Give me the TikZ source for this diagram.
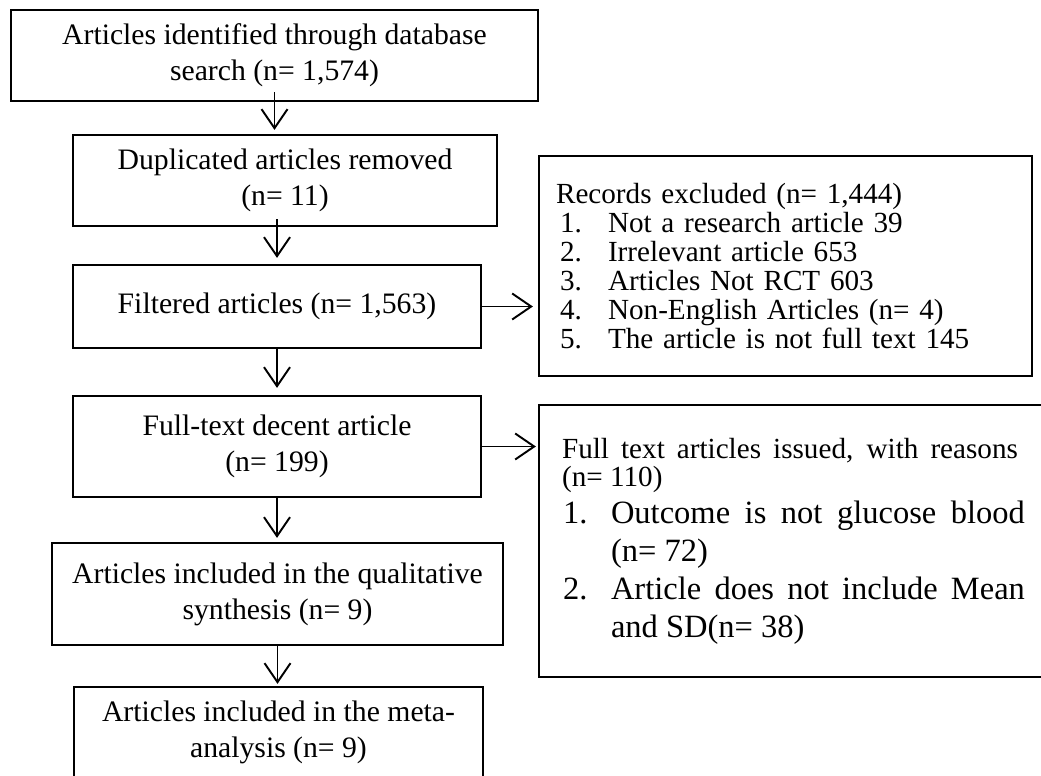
\documentclass[tikz,border=0pt]{standalone}
\usepackage{fontspec}
\setmainfont{Liberation Serif}
\usetikzlibrary{arrows.meta, positioning}

\begin{document}
\begin{tikzpicture}[x=0.02cm, y=-0.02cm,
      font=\fontsize{16.9}{20.5}\selectfont,
      box/.style={draw, line width=1.3pt, align=center, inner sep=0pt},
      side/.style={draw, line width=1.3pt, inner ysep=0pt},
      arr/.style={-{Straight Barb[length=0.38cm, width=0.52cm]}, line width=1.1pt}]

      \useasboundingbox (0,0) rectangle (1041,776);
      \clip (0,0) rectangle (1041,776);

      \node[box, minimum width=10.54cm, minimum height=1.82cm] (b1) at (274.5,55.5) {Articles identified through database\\search (n= 1,574)};
      \node[box, minimum width=8.48cm, minimum height=1.82cm] (b2) at (285,180.5) {Duplicated articles removed\\(n= 11)};
      \node[box, minimum width=8.16cm, minimum height=1.66cm] (b3) at (277,306.5) {Filtered articles (n= 1,563)};
      \node[box, minimum width=8.16cm, minimum height=2.02cm] (b4) at (277,446.5) {Full-text decent article\\(n= 199)};
      \node[box, minimum width=9.02cm, minimum height=2.04cm] (b5) at (277.5,594) {Articles included in the qualitative\\synthesis (n= 9)};
      \node[box, minimum width=8.18cm, minimum height=1.82cm] (b6) at (278.5,732.5) {Articles included in the meta-\\analysis (n= 9)};

      \node[side, align=left, text width=9.18cm, inner xsep=0.34cm, minimum height=4.4cm, font=\fontsize{16.6}{16.5}\selectfont] (exA) at (785.5,266) {Records excluded (n= 1,444)\\
        \hspace*{0.08cm}\makebox[0.96cm][l]{1.}Not a research article 39\\
        \hspace*{0.08cm}\makebox[0.96cm][l]{2.}Irrelevant article 653\\
        \hspace*{0.08cm}\makebox[0.96cm][l]{3.}Articles Not RCT 603\\
        \hspace*{0.08cm}\makebox[0.96cm][l]{4.}Non-English Articles (n= 4)\\
        \hspace*{0.08cm}\makebox[0.96cm][l]{5.}The article is not full text 145};
      \node[side, align=justify, text width=9.26cm, inner xsep=0.46cm, minimum height=5.44cm] (exB) at (793.5,541) {%
        {\fontsize{16.6}{16}\selectfont\noindent Full text articles issued, with reasons (n= 110)\rightskip=0.14cm\par}
        {\fontsize{18.5}{21.5}\selectfont
        \hangindent=0.98cm\hangafter=1\noindent\makebox[0.98cm][l]{\hspace*{0.02cm}1.}Outcome is not glucose blood (n= 72)\par
        \hangindent=0.98cm\hangafter=1\noindent\makebox[0.98cm][l]{\hspace*{0.02cm}2.}Article does not include Mean and SD(n= 38)\par}};

      \draw[arr, shorten >=0.08cm] ([yshift=0.2cm]b1.south) -- (b1.south |- b2.north);
      \draw[arr, shorten >=0.12cm] ([yshift=0.16cm]b3.north |- b2.south) -- (b3.north);
      \draw[arr, shorten >=0.14cm] (b3.south) -- (b4.north);
      \draw[arr, shorten >=0.08cm] (b4.south) -- (b4.south |- b5.north);
      \draw[arr, shorten >=0.04cm] (b5.south) -- (b5.south |- b6.north);
      \draw[arr, shorten >=0.1cm] (b3.east) -- (b3.east -| exA.west);
      \draw[arr, shorten >=0.04cm] (b4.east) -- (b4.east -| exB.west);
    \end{tikzpicture}
\end{document}
